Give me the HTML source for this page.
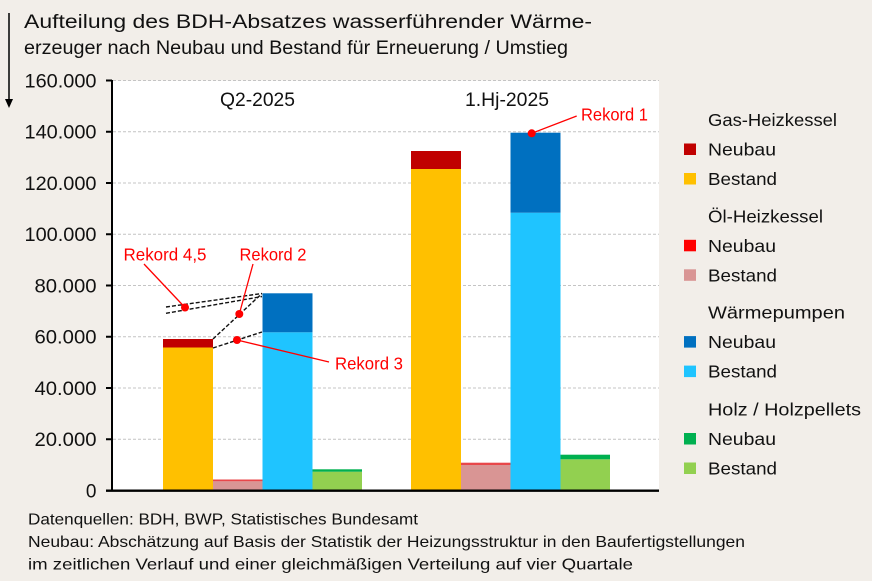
<!DOCTYPE html>
<html>
<head>
<meta charset="utf-8">
<style>
html,body{margin:0;padding:0;background:#f2eee9;}
svg{display:block;}
text{font-family:"Liberation Sans",Arial,sans-serif;}
</style>
</head>
<body>
<svg width="872" height="581" viewBox="0 0 872 581" xmlns="http://www.w3.org/2000/svg">
<rect x="0" y="0" width="872" height="581" fill="#f2eee9"/>

<!-- title -->
<line x1="9" y1="13" x2="9" y2="100" stroke="#000" stroke-width="1.5"/>
<polygon points="5,99 13,99 9,108" fill="#000"/>
<text x="24" y="28" font-size="19" fill="#111" textLength="568" lengthAdjust="spacingAndGlyphs">Aufteilung des BDH-Absatzes wasserführender Wärme-</text>
<text x="24" y="54" font-size="19" fill="#111" textLength="544" lengthAdjust="spacingAndGlyphs">erzeuger nach Neubau und Bestand für Erneuerung / Umstieg</text>

<!-- plot area -->
<rect x="112" y="80.5" width="547" height="410" fill="#ffffff"/>

<!-- gridlines -->
<g stroke="#c4c4c4" stroke-width="1" stroke-dasharray="3,2">
<line x1="113" y1="80.5" x2="659" y2="80.5"/>
<line x1="113" y1="131.75" x2="659" y2="131.75"/>
<line x1="113" y1="183" x2="659" y2="183"/>
<line x1="113" y1="234.25" x2="659" y2="234.25"/>
<line x1="113" y1="285.5" x2="659" y2="285.5"/>
<line x1="113" y1="336.75" x2="659" y2="336.75"/>
<line x1="113" y1="388" x2="659" y2="388"/>
<line x1="113" y1="439.25" x2="659" y2="439.25"/>
</g>

<!-- bars Q2 -->
<rect x="163" y="347.5" width="50" height="143" fill="#ffc000"/>
<rect x="163" y="339" width="50" height="8.5" fill="#c00000"/>
<rect x="213" y="481.3" width="49.5" height="9.2" fill="#d99594"/>
<rect x="213" y="479.5" width="49.5" height="1.8" fill="#e8474a"/>
<rect x="262.5" y="332.3" width="50" height="158.2" fill="#1fc4ff"/>
<rect x="262.5" y="293.3" width="50" height="39" fill="#0070c0"/>
<rect x="312.5" y="471.7" width="49.5" height="18.8" fill="#92d050"/>
<rect x="312.5" y="469.3" width="49.5" height="2.4" fill="#00b050"/>

<!-- bars 1.Hj -->
<rect x="411" y="169" width="50" height="321.5" fill="#ffc000"/>
<rect x="411" y="151" width="50" height="18" fill="#c00000"/>
<rect x="461" y="465" width="49.5" height="25.5" fill="#d99594"/>
<rect x="461" y="462.7" width="49.5" height="2.3" fill="#e8474a"/>
<rect x="510.5" y="212.7" width="50" height="277.8" fill="#1fc4ff"/>
<rect x="510.5" y="132.7" width="50" height="80" fill="#0070c0"/>
<rect x="560.5" y="459.3" width="49.5" height="31.2" fill="#92d050"/>
<rect x="560.5" y="454.7" width="49.5" height="4.6" fill="#00b050"/>

<!-- axes -->
<line x1="112" y1="80" x2="112" y2="491.5" stroke="#000" stroke-width="2"/>
<line x1="106" y1="490.7" x2="659" y2="490.7" stroke="#000" stroke-width="2.4"/>
<g stroke="#000" stroke-width="2">
<line x1="106" y1="80.5" x2="112" y2="80.5"/>
<line x1="106" y1="131.75" x2="112" y2="131.75"/>
<line x1="106" y1="183" x2="112" y2="183"/>
<line x1="106" y1="234.25" x2="112" y2="234.25"/>
<line x1="106" y1="285.5" x2="112" y2="285.5"/>
<line x1="106" y1="336.75" x2="112" y2="336.75"/>
<line x1="106" y1="388" x2="112" y2="388"/>
<line x1="106" y1="439.25" x2="112" y2="439.25"/>
</g>

<!-- y labels -->
<g font-size="19" fill="#111" text-anchor="end">
<text x="96.5" y="87.3" textLength="72" lengthAdjust="spacingAndGlyphs">160.000</text>
<text x="96.5" y="138.5" textLength="72" lengthAdjust="spacingAndGlyphs">140.000</text>
<text x="96.5" y="189.8" textLength="72" lengthAdjust="spacingAndGlyphs">120.000</text>
<text x="96.5" y="241" textLength="72" lengthAdjust="spacingAndGlyphs">100.000</text>
<text x="96.5" y="292.3" textLength="62" lengthAdjust="spacingAndGlyphs">80.000</text>
<text x="96.5" y="343.5" textLength="62" lengthAdjust="spacingAndGlyphs">60.000</text>
<text x="96.5" y="394.8" textLength="62" lengthAdjust="spacingAndGlyphs">40.000</text>
<text x="96.5" y="446" textLength="62" lengthAdjust="spacingAndGlyphs">20.000</text>
<text x="96.5" y="497.3">0</text>
</g>

<!-- group labels -->
<text x="220" y="106" font-size="19" fill="#111" textLength="75" lengthAdjust="spacingAndGlyphs">Q2-2025</text>
<text x="465" y="106" font-size="19" fill="#111" textLength="84" lengthAdjust="spacingAndGlyphs">1.Hj-2025</text>

<!-- dashed connector lines -->
<g stroke="#111" stroke-width="1.4" stroke-dasharray="4,2" fill="none">
<line x1="213" y1="339" x2="262" y2="293.5"/>
<line x1="213" y1="348" x2="262" y2="332"/>
<line x1="166" y1="307" x2="262" y2="293.5"/>
<line x1="166" y1="313.3" x2="262" y2="296.5"/>
</g>

<!-- record annotations -->
<g stroke="#ff0000" stroke-width="1.3">
<line x1="144" y1="264" x2="185" y2="307.5"/>
<line x1="253" y1="264" x2="239.3" y2="314"/>
<line x1="237" y1="340" x2="329" y2="362"/>
<line x1="531.7" y1="133.3" x2="576.7" y2="116"/>
</g>
<g fill="#ff0000">
<circle cx="185" cy="307.5" r="4"/>
<circle cx="239.3" cy="314" r="4"/>
<circle cx="237" cy="340" r="4"/>
<circle cx="531.7" cy="133.3" r="4"/>
</g>
<g font-size="17.5" fill="#ff0000">
<text x="123.5" y="260.7" textLength="83" lengthAdjust="spacingAndGlyphs">Rekord 4,5</text>
<text x="239.5" y="260.7" textLength="67" lengthAdjust="spacingAndGlyphs">Rekord 2</text>
<text x="335" y="369.3" textLength="68" lengthAdjust="spacingAndGlyphs">Rekord 3</text>
<text x="581" y="120.7" textLength="67" lengthAdjust="spacingAndGlyphs">Rekord 1</text>
</g>

<!-- legend -->
<g font-size="17.5" fill="#111">
<text x="708" y="126" textLength="129" lengthAdjust="spacingAndGlyphs">Gas-Heizkessel</text>
<rect x="684" y="143.5" width="12" height="11.5" fill="#c00000"/>
<text x="708" y="155.5" textLength="68" lengthAdjust="spacingAndGlyphs">Neubau</text>
<rect x="684" y="173" width="12" height="11.5" fill="#ffc000"/>
<text x="708" y="185" textLength="69" lengthAdjust="spacingAndGlyphs">Bestand</text>

<text x="708" y="222.3" textLength="115" lengthAdjust="spacingAndGlyphs">Öl-Heizkessel</text>
<rect x="684" y="239.8" width="12" height="11.5" fill="#ff0000"/>
<text x="708" y="251.8" textLength="68" lengthAdjust="spacingAndGlyphs">Neubau</text>
<rect x="684" y="269.3" width="12" height="11.5" fill="#d99594"/>
<text x="708" y="281.3" textLength="69" lengthAdjust="spacingAndGlyphs">Bestand</text>

<text x="708" y="318.6" textLength="137" lengthAdjust="spacingAndGlyphs">Wärmepumpen</text>
<rect x="684" y="336.1" width="12" height="11.5" fill="#0070c0"/>
<text x="708" y="348.1" textLength="68" lengthAdjust="spacingAndGlyphs">Neubau</text>
<rect x="684" y="365.6" width="12" height="11.5" fill="#1fc4ff"/>
<text x="708" y="377.6" textLength="69" lengthAdjust="spacingAndGlyphs">Bestand</text>

<text x="708" y="415.5" textLength="153" lengthAdjust="spacingAndGlyphs">Holz / Holzpellets</text>
<rect x="684" y="433" width="12" height="11.5" fill="#00b050"/>
<text x="708" y="445" textLength="68" lengthAdjust="spacingAndGlyphs">Neubau</text>
<rect x="684" y="462.5" width="12" height="11.5" fill="#92d050"/>
<text x="708" y="474.5" textLength="69" lengthAdjust="spacingAndGlyphs">Bestand</text>
</g>

<!-- footnotes -->
<g font-size="16" fill="#111">
<text x="28" y="524.5" textLength="390" lengthAdjust="spacingAndGlyphs">Datenquellen: BDH, BWP, Statistisches Bundesamt</text>
<text x="28" y="547" textLength="717" lengthAdjust="spacingAndGlyphs">Neubau: Abschätzung auf Basis der Statistik der Heizungsstruktur in den Baufertigstellungen</text>
<text x="28" y="569.5" textLength="605" lengthAdjust="spacingAndGlyphs">im zeitlichen Verlauf und einer gleichmäßigen Verteilung auf vier Quartale</text>
</g>
</svg>
</body>
</html>
